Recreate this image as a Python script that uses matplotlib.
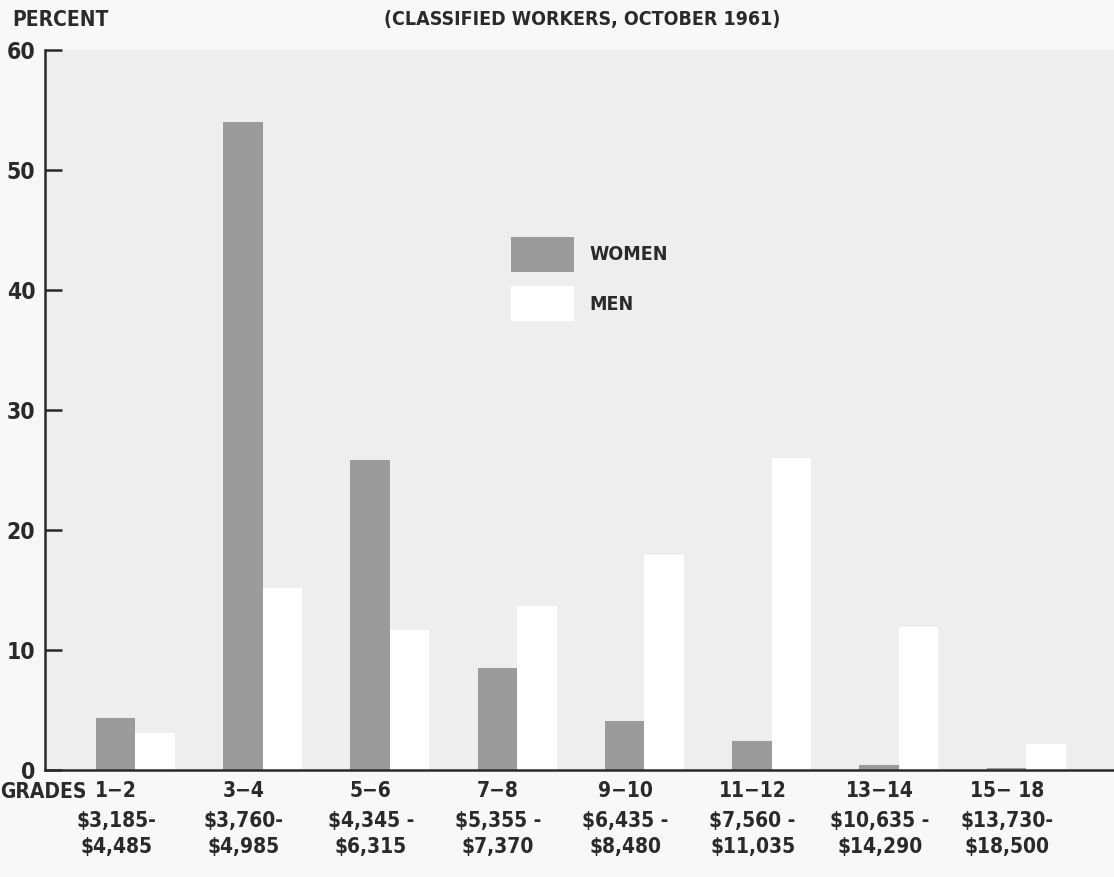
import matplotlib
matplotlib.use("Agg")
import matplotlib.pyplot as plt
import numpy as np

# Data
grades = ["1\u22122", "3\u22124", "5\u22126", "7\u22128", "9\u221210", "11\u221212", "13\u221214", "15\u2212 18"]
pay_low = ["$3,185-", "$3,760-", "$4,345 -", "$5,355 -", "$6,435 -", "$7,560 -", "$10,635 -", "$13,730-"]
pay_high = ["$4,485", "$4,985", "$6,315", "$7,370", "$8,480", "$11,035", "$14,290", "$18,500"]
women = [4.3, 54.0, 25.8, 8.5, 4.1, 2.4, 0.4, 0.2]
men = [3.1, 15.2, 11.7, 13.7, 17.9, 26.0, 11.9, 2.2]
yticks = [0, 10, 20, 30, 40, 50, 60]

plt.rcParams['font.family'] = ['DejaVu Sans']
plt.rcParams['font.stretch'] = 'condensed'
plt.rcParams['font.weight'] = 'bold'
ink = '#2a2a2a'

fig = plt.figure(figsize=(11.14, 8.77), dpi=100, facecolor='#f8f8f8')
# axes: x 45..1114 px, y 50..770 px
ax = fig.add_axes([45 / 1114, 1 - 770 / 877, 1 - 45 / 1114, 720 / 877])
ax.set_facecolor('#eeeeee')

x = np.arange(len(grades))
w = 0.31
ax.bar(x - w / 2, women, w, color='#9b9b9b', label='WOMEN')
ax.bar(x + w / 2, men, w, color='#ffffff', label='MEN')

ax.set_xlim(-0.71, 7.69)
ax.set_ylim(0, 60)
ax.set_yticks(yticks)
ax.tick_params(axis='y', direction='in', length=12, width=1.8, labelsize=16.5,
               pad=7, colors=ink)
ax.set_xticks(x - 0.15)
ax.set_xticklabels(grades, fontsize=15, color=ink)
ax.tick_params(axis='x', length=0, pad=8)

# salary ranges under each grade label
for xi, a, b in zip(x - 0.15, pay_low, pay_high):
    ax.annotate(f"{a}\n{b}", xy=(xi, 0), xycoords=ax.get_xaxis_transform(),
                xytext=(0, -64), textcoords='offset pixels', ha='center', va='center',
                fontsize=15, linespacing=1.42, color=ink, annotation_clip=False)

for s in ['top', 'right']:
    ax.spines[s].set_visible(False)
for s in ['left', 'bottom']:
    ax.spines[s].set_linewidth(1.8)
    ax.spines[s].set_color(ink)

leg = ax.legend(loc='upper left', bbox_to_anchor=(0.42, 0.765), frameon=False,
                fontsize=14, handlelength=3.2, handleheight=2.4, labelspacing=0.75,
                handletextpad=0.8)
for t in leg.get_texts():
    t.set_color(ink)

fig.text(12 / 1114, 1 - 20 / 877, "PERCENT", fontsize=15, va='center', ha='left', color=ink)
fig.text(582 / 1114, 1 - 20 / 877, "(CLASSIFIED WORKERS, OCTOBER 1961)", fontsize=14,
         va='center', ha='center', color=ink)
fig.text(0, 1 - 792 / 877, "GRADES", fontsize=15, va='center', ha='left', color=ink)

fig.savefig("out.png", dpi=100, facecolor=fig.get_facecolor())
